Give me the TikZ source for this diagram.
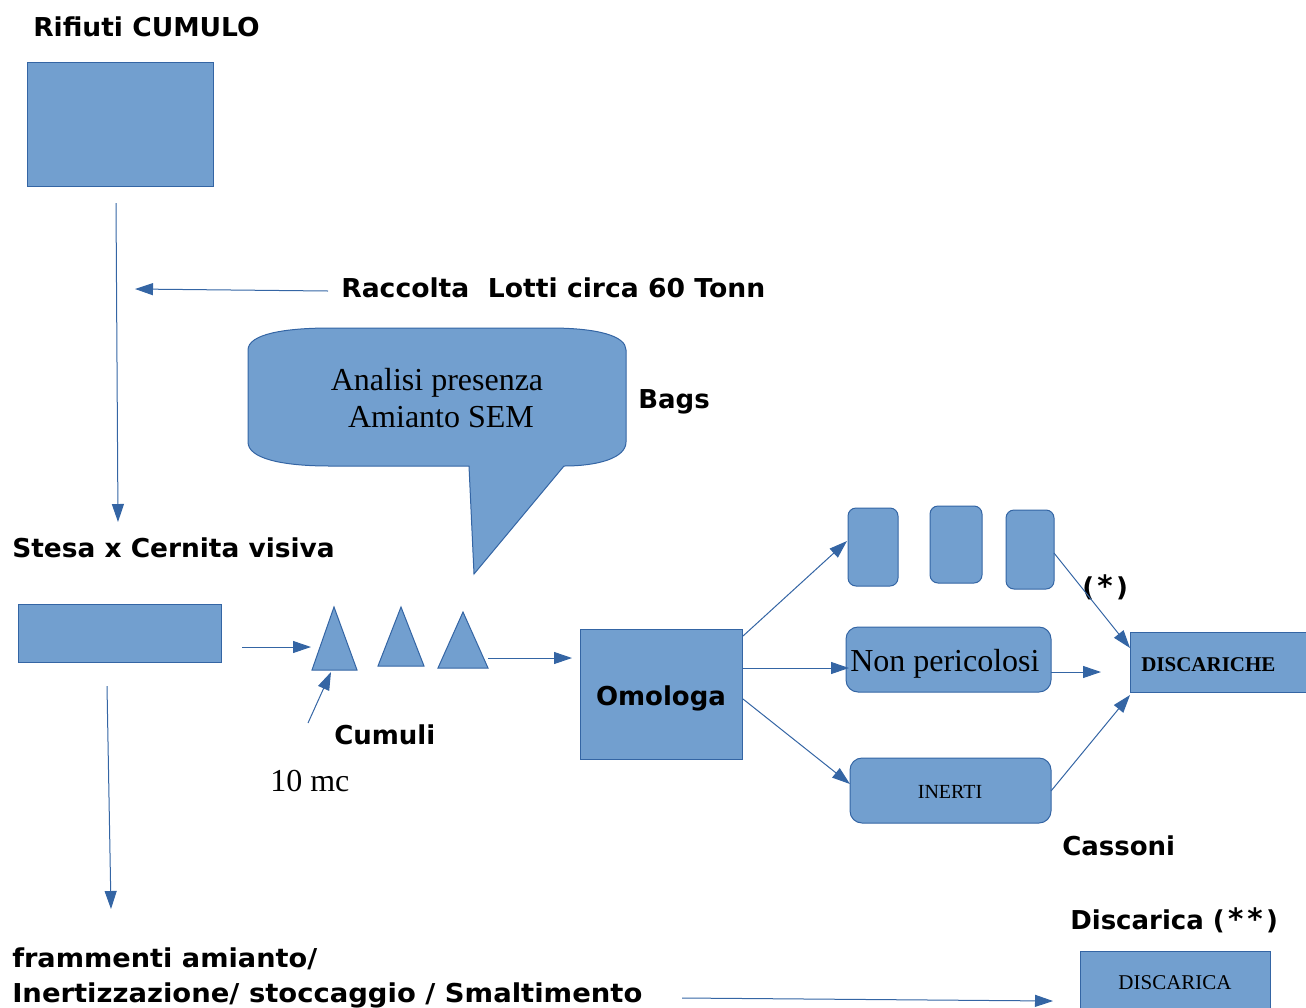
\documentclass[tikz,border=0pt]{standalone}
\usepackage{fontspec}
\setmainfont{Liberation Serif}
\newfontfamily\labfont{DejaVu Sans}
\usetikzlibrary{arrows.meta}
\definecolor{boxfill}{HTML}{729FCF}
\definecolor{boxline}{HTML}{3465A4}
\newcommand{\bigast}{{\fontsize{22}{22}\selectfont *}}
\begin{document}
\begin{tikzpicture}[x=0.75pt,y=-0.75pt,
  box/.style={draw=boxline, fill=boxfill, line width=0.75pt, inner sep=0pt},
  conn/.style={draw=boxline, line width=0.75pt, -{Triangle[length=13.5pt,width=9pt]}},
  lab/.style={font=\labfont\bfseries\fontsize{19.5}{22}\selectfont, anchor=base west, inner sep=0pt},
  wide/.style={transform shape, xscale=#1},
  ser/.style={font=\fontsize{24}{28}\selectfont, inner sep=0pt}]
\useasboundingbox (0,0) rectangle (1306,1007);

% boxes
\node[box, minimum width={186*0.75pt}, minimum height={124*0.75pt}] (rif) at (120,124) {};
\node[box, minimum width={203*0.75pt}, minimum height={58*0.75pt}] (stesa) at (119.5,633) {};
\node[box, minimum width={162*0.75pt}, minimum height={130*0.75pt}] (omo) at (661,694) {};
\node[box, rounded corners=6pt, minimum width={50*0.75pt}, minimum height={78*0.75pt}] (b1) at (873,547) {};
\node[box, rounded corners=6pt, minimum width={52*0.75pt}, minimum height={77*0.75pt}] (b2) at (956,544.5) {};
\node[box, rounded corners=6pt, minimum width={48*0.75pt}, minimum height={79*0.75pt}] (b3) at (1030,549.5) {};
\node[box, rounded corners=9pt, minimum width={205*0.75pt}, minimum height={65*0.75pt}] (nonp) at (948.5,659.5) {};
\node[box, rounded corners=9pt, minimum width={201*0.75pt}, minimum height={65*0.75pt}] (inerti) at (950.5,790.5) {};
\node[box, minimum width={185*0.75pt}, minimum height={60*0.75pt}] (disch) at (1222.5,662) {};
\node[box, minimum width={190*0.75pt}, minimum height={64*0.75pt}, font=\fontsize{15.75}{18}\selectfont] (disca) at (1175,983) {DISCARICA};

% callout
\path[box] (248,350) .. controls (248,334) and (285,328) .. (330,328) -- (550,328)
  .. controls (598,328) and (626,336) .. (626,350) -- (626,442)
  .. controls (626,458) and (598,466) .. (564,466) -- (474,574) -- (469,466) -- (330,466)
  .. controls (280,466) and (248,458) .. (248,442) -- cycle;
\node[ser, anchor=base] (an1) at (437,390) {Analisi presenza};
\node[ser, anchor=base] (an2) at (441,427) {Amianto SEM};

% triangles
\path[box] (334,607) -- (357,670) -- (312,670) -- cycle;
\path[box] (401,607) -- (424,666) -- (378,666) -- cycle;
\path[box] (463,612) -- (488,668) -- (438,668) -- cycle;

% texts
\node[lab, wide=1.02] (t1) at (33,36) {Rifiuti CUMULO};
\node[lab, wide=1.024] (t2) at (341,297) {Raccolta\ \ Lotti circa 60 Tonn};
\node[lab] (t3) at (638,408) {Bags};
\node[lab, wide=1.016] (t4) at (12,557) {Stesa x Cernita visiva};
\node[lab, anchor=base] (t5) at (661,705) {Omologa};
\node[lab] (t6) at (334,744) {Cumuli};
\node[ser, anchor=base west] (t7) at (270,791) {10 mc};
\node[lab] (t8) at (1082,596) {(\kern2.5pt\bigast\kern2.5pt)};
\node[lab] (t9) at (1062,855) {Cassoni};
\node[lab] (t10) at (1070,929) {Discarica (\kern2.5pt\bigast\kern3pt\bigast\kern2.5pt)};
\node[lab, wide=1.045] (t11) at (12,967) {frammenti amianto/};
\node[lab, wide=1.055] (t12) at (12,1002) {Inertizzazione/ stoccaggio / Smaltimento};
\node[ser, anchor=base west] (t13) at (850,671) {Non pericolosi};
\node[anchor=base, inner sep=0pt, font=\fontsize{15}{18}\selectfont] (t14) at (950,798) {INERTI};
\node[anchor=base west, inner sep=0pt, font=\bfseries\fontsize{15.75}{18}\selectfont] (t15) at (1141,671) {DISCARICHE};

% connector end points
\coordinate (p1a) at (116,203); \coordinate (p1b) at (118,522);
\coordinate (p2a) at (328,291); \coordinate (p2b) at (135,289);
\coordinate (p3a) at (242,647); \coordinate (p3b) at (311,647);
\coordinate (p4a) at (308,723); \coordinate (p4b) at (331,672);
\coordinate (p5a) at (488,658); \coordinate (p5b) at (572,658);
\coordinate (p6a) at (743,636); \coordinate (p6b) at (847,541);
\coordinate (p7a) at (743,668); \coordinate (p7b) at (849,668);
\coordinate (p8a) at (743,699); \coordinate (p8b) at (850,784);
\coordinate (p9a) at (1054,553); \coordinate (p9b) at (1130,648);
\coordinate (p10a) at (1051,672); \coordinate (p10b) at (1101,672);
\coordinate (p11a) at (1051,791); \coordinate (p11b) at (1130,695);
\coordinate (p12a) at (107,686); \coordinate (p12b) at (111,909);
\coordinate (p13a) at (682,998); \coordinate (p13b) at (1053,1001);

\foreach \c in {1,...,13} \draw[conn] (p\c a) -- (p\c b);
\end{tikzpicture}
\end{document}
